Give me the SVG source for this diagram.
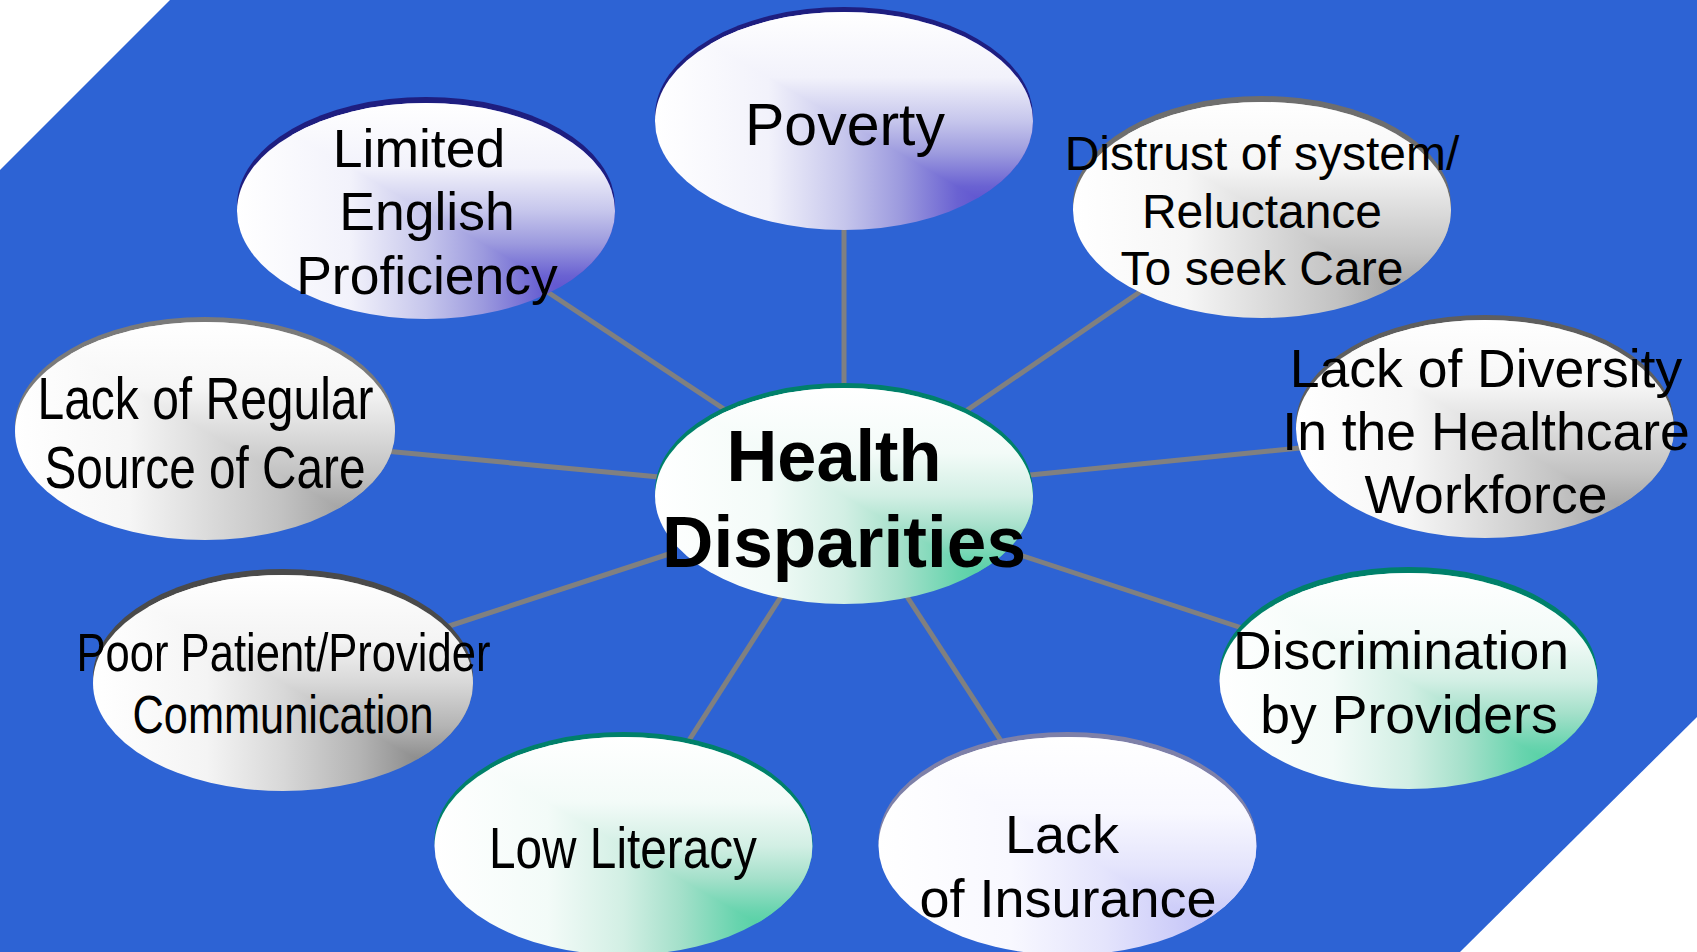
<svg xmlns="http://www.w3.org/2000/svg" width="1697" height="952" viewBox="0 0 1697 952">
<style>
.t{font-family:"Liberation Sans",Arial,sans-serif;fill:#000;text-anchor:middle}
.b{font-weight:bold}
.conn line{stroke:#808080;stroke-width:5}
</style>
<defs>
<clipPath id="ur" clipPathUnits="objectBoundingBox"><polygon points="0,0 1,0 1,1"/></clipPath>
<linearGradient id="pH" x1="0" y1="0" x2="1" y2="0"><stop offset="0" stop-color="#fff"/><stop offset="0.3" stop-color="#f2f2fb"/><stop offset="0.5" stop-color="#c6c6ec"/><stop offset="0.65" stop-color="#9c9ade"/><stop offset="0.8" stop-color="#6a62d2"/><stop offset="0.9" stop-color="#5a4ecf"/><stop offset="1" stop-color="#5a4ecf"/></linearGradient>
<linearGradient id="pV" href="#pH" x1="0" y1="0" x2="0" y2="1"/>
<linearGradient id="gH" x1="0" y1="0" x2="1" y2="0"><stop offset="0" stop-color="#fff"/><stop offset="0.3" stop-color="#f6f6f6"/><stop offset="0.5" stop-color="#dcdcdc"/><stop offset="0.7" stop-color="#c2c2c2"/><stop offset="0.85" stop-color="#a6a6a6"/><stop offset="1" stop-color="#a0a0a0"/></linearGradient>
<linearGradient id="gV" href="#gH" x1="0" y1="0" x2="0" y2="1"/>
<linearGradient id="dH" x1="0" y1="0" x2="1" y2="0"><stop offset="0" stop-color="#fff"/><stop offset="0.3" stop-color="#f4f4f4"/><stop offset="0.5" stop-color="#d8d8d8"/><stop offset="0.7" stop-color="#b4b4b4"/><stop offset="0.85" stop-color="#8e8e8e"/><stop offset="1" stop-color="#888"/></linearGradient>
<linearGradient id="dV" href="#dH" x1="0" y1="0" x2="0" y2="1"/>
<linearGradient id="eH" x1="0" y1="0" x2="1" y2="0"><stop offset="0" stop-color="#fff"/><stop offset="0.3" stop-color="#f3fbf8"/><stop offset="0.5" stop-color="#d2efe4"/><stop offset="0.65" stop-color="#a4e0ca"/><stop offset="0.8" stop-color="#68d4ae"/><stop offset="0.9" stop-color="#4ccfa0"/><stop offset="1" stop-color="#4ccfa0"/></linearGradient>
<linearGradient id="eV" href="#eH" x1="0" y1="0" x2="0" y2="1"/>
<linearGradient id="lH" x1="0" y1="0" x2="1" y2="0"><stop offset="0" stop-color="#fff"/><stop offset="0.35" stop-color="#f8f8ff"/><stop offset="0.6" stop-color="#e4e4fc"/><stop offset="0.85" stop-color="#c6c6f8"/><stop offset="1" stop-color="#c2c2f6"/></linearGradient>
<linearGradient id="lV" href="#lH" x1="0" y1="0" x2="0" y2="1"/>
</defs>

<polygon points="170,0 1697,0 1697,717 1460,952 0,952 0,170" fill="#2d63d4"/>

<g class="conn" id="connectors">
<line x1="844" y1="225" x2="844" y2="400"/>
<line x1="540" y1="287" x2="730" y2="413"/>
<line x1="1150" y1="285" x2="960" y2="415"/>
<line x1="1300" y1="448" x2="1020" y2="476"/>
<line x1="385" y1="451" x2="670" y2="478"/>
<line x1="440" y1="629" x2="672" y2="553"/>
<line x1="686" y1="745" x2="784" y2="592"/>
<line x1="1005" y1="747" x2="904" y2="592"/>
<line x1="1020" y1="555" x2="1248" y2="630"/>
</g>

<g id="poverty">
<ellipse cx="844" cy="116" rx="189" ry="109" fill="#1e1e80"/>
<ellipse cx="844" cy="121" rx="189" ry="109" fill="url(#pH)"/>
<ellipse cx="844" cy="121" rx="189" ry="109" fill="url(#pV)" clip-path="url(#ur)"/>
<text class="t" x="845" y="145" font-size="59">Poverty</text>
</g>

<g id="limited-english">
<ellipse cx="426" cy="205" rx="189" ry="108" fill="#1e1e80"/>
<ellipse cx="426" cy="211" rx="189" ry="108" fill="url(#pH)"/>
<ellipse cx="426" cy="211" rx="189" ry="108" fill="url(#pV)" clip-path="url(#ur)"/>
<text class="t" font-size="53.5"><tspan x="419" y="167">Limited</tspan><tspan x="427" y="230">English</tspan><tspan x="427" y="294">Proficiency</tspan></text>
</g>

<g id="distrust">
<ellipse cx="1262" cy="204" rx="189" ry="108" fill="#6e6e6e"/>
<ellipse cx="1262" cy="210" rx="189" ry="108" fill="url(#gH)"/>
<ellipse cx="1262" cy="210" rx="189" ry="108" fill="url(#gV)" clip-path="url(#ur)"/>
<text class="t" font-size="48"><tspan x="1262" y="170">Distrust of system/</tspan><tspan x="1262" y="228">Reluctance</tspan><tspan x="1262" y="285">To seek Care</tspan></text>
</g>

<g id="lack-of-diversity">
<ellipse cx="1485" cy="424" rx="189" ry="109" fill="#5e5e5e"/>
<ellipse cx="1485" cy="429" rx="189" ry="109" fill="url(#gH)"/>
<ellipse cx="1485" cy="429" rx="189" ry="109" fill="url(#gV)" clip-path="url(#ur)"/>
<text class="t" font-size="53.5"><tspan x="1486" y="387">Lack of Diversity</tspan><tspan x="1486" y="450">In the Healthcare</tspan><tspan x="1486" y="513">Workforce</tspan></text>
</g>

<g id="lack-of-regular-source">
<ellipse cx="205" cy="426" rx="190" ry="109" fill="#7a7a7a"/>
<ellipse cx="205" cy="431" rx="190" ry="109" fill="url(#gH)"/>
<ellipse cx="205" cy="431" rx="190" ry="109" fill="url(#gV)" clip-path="url(#ur)"/>
<text class="t" font-size="59"><tspan x="205.5" y="419" textLength="336" lengthAdjust="spacingAndGlyphs">Lack of Regular</tspan><tspan x="205" y="488" textLength="321" lengthAdjust="spacingAndGlyphs">Source of Care</tspan></text>
</g>

<g id="poor-communication">
<ellipse cx="283" cy="677" rx="190" ry="108" fill="#4a4a4a"/>
<ellipse cx="283" cy="683" rx="190" ry="108" fill="url(#dH)"/>
<ellipse cx="283" cy="683" rx="190" ry="108" fill="url(#dV)" clip-path="url(#ur)"/>
<text class="t" font-size="53"><tspan x="283.5" y="671" textLength="414" lengthAdjust="spacingAndGlyphs">Poor Patient/Provider</tspan><tspan x="283" y="733" textLength="301" lengthAdjust="spacingAndGlyphs">Communication</tspan></text>
</g>

<g id="health-disparities">
<ellipse cx="844" cy="491" rx="189" ry="108" fill="#00806a"/>
<ellipse cx="844" cy="496" rx="189" ry="108" fill="url(#eH)"/>
<ellipse cx="844" cy="496" rx="189" ry="108" fill="url(#eV)" clip-path="url(#ur)"/>
<text class="t b" font-size="72"><tspan x="834" y="481" textLength="215" lengthAdjust="spacingAndGlyphs">Health</tspan><tspan x="844" y="567" textLength="364" lengthAdjust="spacingAndGlyphs">Disparities</tspan></text>
</g>

<g id="low-literacy">
<ellipse cx="623.5" cy="841" rx="189" ry="109" fill="#00806a"/>
<ellipse cx="623.5" cy="846" rx="189" ry="109" fill="url(#eH)"/>
<ellipse cx="623.5" cy="846" rx="189" ry="109" fill="url(#eV)" clip-path="url(#ur)"/>
<text class="t" x="623" y="868" font-size="58" textLength="268" lengthAdjust="spacingAndGlyphs">Low Literacy</text>
</g>

<g id="lack-of-insurance">
<ellipse cx="1067.5" cy="841" rx="189" ry="109" fill="#7e80a8"/>
<ellipse cx="1067.5" cy="846" rx="189" ry="109" fill="url(#lH)"/>
<ellipse cx="1067.5" cy="846" rx="189" ry="109" fill="url(#lV)" clip-path="url(#ur)"/>
<text class="t" font-size="54"><tspan x="1062" y="853">Lack</tspan><tspan x="1068" y="917">of Insurance</tspan></text>
</g>

<g id="discrimination">
<ellipse cx="1408.5" cy="675" rx="189" ry="108" fill="#00806a"/>
<ellipse cx="1408.5" cy="681" rx="189" ry="108" fill="url(#eH)"/>
<ellipse cx="1408.5" cy="681" rx="189" ry="108" fill="url(#eV)" clip-path="url(#ur)"/>
<text class="t" font-size="53.5"><tspan x="1401" y="669">Discrimination</tspan><tspan x="1409" y="733">by Providers</tspan></text>
</g>
</svg>
